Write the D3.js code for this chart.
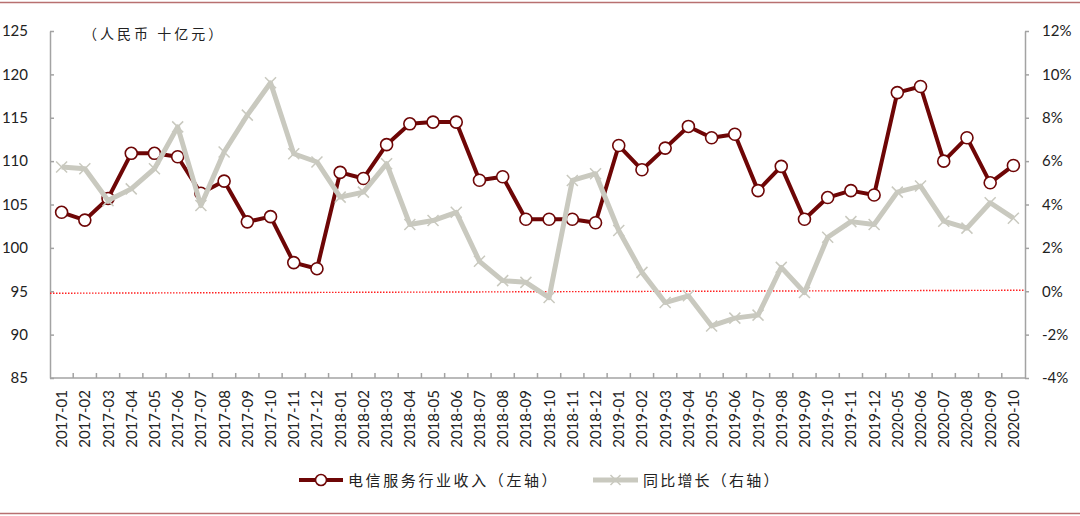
<!DOCTYPE html>
<html>
<head>
<meta charset="utf-8">
<script src="https://cdn.jsdelivr.net/npm/d3@7"></script>
<style>
  body { margin: 0; background: #fff; }
  svg { display: block; }
</style>
</head>
<body>
<div id="chart"></div>
<script>
// months on the x axis (2020-01..04 are absent in the source)
var months = [
    "2017-01", "2017-02", "2017-03", "2017-04", "2017-05", "2017-06",
    "2017-07", "2017-08", "2017-09", "2017-10", "2017-11", "2017-12",
    "2018-01", "2018-02", "2018-03", "2018-04", "2018-05", "2018-06",
    "2018-07", "2018-08", "2018-09", "2018-10", "2018-11", "2018-12",
    "2019-01", "2019-02", "2019-03", "2019-04", "2019-05", "2019-06",
    "2019-07", "2019-08", "2019-09", "2019-10", "2019-11", "2019-12",
    "2020-05", "2020-06", "2020-07", "2020-08", "2020-09", "2020-10"
];

// 电信服务行业收入, 十亿元 (left axis)
var revenue = [
    104.1, 103.2, 105.7, 110.9, 110.9, 110.5,
    106.3, 107.7, 103.0, 103.6, 98.3, 97.6,
    108.7, 108.0, 111.9, 114.3, 114.5, 114.5,
    107.8, 108.2, 103.3, 103.3, 103.3, 102.9,
    111.8, 109.0, 111.5, 114.0, 112.7, 113.1,
    106.6, 109.4, 103.3, 105.8, 106.6, 106.1,
    117.9, 118.6, 110.0, 112.7, 107.5, 109.5
];

// 同比增长, % (right axis)
var growth = [
    5.73, 5.65, 4.18, 4.72, 5.65, 7.58,
    3.95, 6.42, 8.12, 9.61, 6.34, 5.96,
    4.34, 4.57, 5.88, 3.08, 3.26, 3.64,
    1.38, 0.49, 0.41, -0.29, 5.11, 5.42,
    2.80, 0.87, -0.52, -0.21, -1.60, -1.24,
    -1.10, 1.10, -0.06, 2.49, 3.21, 3.08,
    4.57, 4.85, 3.23, 2.91, 4.08, 3.37
];

var leftTicks = [85, 90, 95, 100, 105, 110, 115, 120, 125];
var rightTicks = [-4, -2, 0, 2, 4, 6, 8, 10, 12];

var unitLabel = "（人民币 十亿元）";
var legendNames = ["电信服务行业收入（左轴）", "同比增长（右轴）"];

var W = 1080, H = 516;
var margin = { top: 31, right: 55, bottom: 138, left: 50 };
var plotW = W - margin.left - margin.right,
    plotH = H - margin.top - margin.bottom;

var darkRed = "#6e0606",
    grey = "#c9c9bf",
    axisColor = "#a3a3a3",
    numFont = "Lato, 'Open Sans', sans-serif",
    cjkFont = "'Noto Sans CJK SC', sans-serif";

var svg = d3.select("#chart")
    .append("svg")
    .attr("width", W)
    .attr("height", H);

// frame lines top and bottom
svg.append("line")
    .attr("x1", 0).attr("x2", W).attr("y1", 2.5).attr("y2", 2.5)
    .attr("stroke", "#b87070").attr("stroke-width", 1.5);
svg.append("line")
    .attr("x1", 0).attr("x2", W).attr("y1", 513.5).attr("y2", 513.5)
    .attr("stroke", "#b87070").attr("stroke-width", 1.5);

var g = svg.append("g")
    .attr("transform", "translate(" + margin.left + "," + margin.top + ")");

// scales
const x = d3.scaleBand()
    .domain(months)
    .range([0, plotW])
    .padding(0);

var yL = d3.scaleLinear()
    .domain([85, 125])
    .range([plotH, 0]);

var yR = d3.scaleLinear()
    .domain([-4, 12])
    .range([plotH, 0]);

// left axis
var leftAxis = g.append("g")
    .call(d3.axisLeft(yL).tickValues(leftTicks).tickSize(-4).tickSizeOuter(0).tickPadding(22));
leftAxis.select(".domain").attr("stroke", axisColor).attr("stroke-width", 1.5);
leftAxis.selectAll(".tick line").attr("stroke", axisColor).attr("stroke-width", 1.5);
leftAxis.selectAll("text")
    .attr("font-family", numFont).attr("font-size", 15).attr("fill", "#222");

// right axis
var rightAxis = g.append("g")
    .attr("transform", "translate(" + plotW + ",0)")
    .call(d3.axisRight(yR).tickValues(rightTicks).tickSize(4).tickSizeOuter(0).tickPadding(13)
        .tickFormat(d => d + "%"));
rightAxis.select(".domain").attr("stroke", axisColor).attr("stroke-width", 1.5);
rightAxis.selectAll(".tick line").attr("stroke", axisColor).attr("stroke-width", 1.5);
rightAxis.selectAll("text")
    .attr("font-family", numFont).attr("font-size", 15).attr("fill", "#222");

// bottom axis: line, boundary ticks, rotated labels
var bottom = g.append("g")
    .attr("transform", "translate(0," + plotH + ")");
bottom.append("line")
    .attr("x1", 0).attr("x2", plotW)
    .attr("stroke", axisColor).attr("stroke-width", 1.5);
bottom.selectAll("line.tk")
    .data(months.slice(1))
    .join("line")
    .attr("class", "tk")
    .attr("x1", d => x(d)).attr("x2", d => x(d))
    .attr("y1", 0).attr("y2", -5)
    .attr("stroke", axisColor).attr("stroke-width", 1.5);
bottom.selectAll("text")
    .data(months)
    .join("text")
    .attr("transform", d => "translate(" + (x(d) + x.bandwidth() / 2 + 5.5) + ",12) rotate(-90)")
    .attr("text-anchor", "end")
    .attr("font-family", numFont)
    .attr("font-size", 15)
    .attr("fill", "#222")
    .text(d => d);

// zero line of the growth axis
g.append("line")
    .attr("x1", 0).attr("x2", plotW)
    .attr("y1", yR(0) + 2).attr("y2", yR(0) - 1)
    .attr("stroke", "#ff2020")
    .attr("stroke-width", 1.4)
    .attr("stroke-dasharray", "1.5,1.5");

// unit label
g.append("text")
    .attr("x", 33).attr("y", 8)
    .attr("font-family", cjkFont)
    .attr("font-size", 14)
    .attr("letter-spacing", 3)
    .attr("fill", "#222")
    .text(unitLabel);

var cx = (d, i) => x(months[i]) + x.bandwidth() / 2;

// revenue line
g.append("path")
    .datum(revenue)
    .attr("fill", "none")
    .attr("stroke", darkRed)
    .attr("stroke-width", 4)
    .attr("stroke-linejoin", "round")
    .attr("d", d3.line().x(cx).y(d => yL(d)));

g.append("g")
    .selectAll("circle")
    .data(revenue)
    .join("circle")
    .attr("cx", cx)
    .attr("cy", d => yL(d))
    .attr("r", 6)
    .attr("fill", "#fff")
    .attr("stroke", darkRed)
    .attr("stroke-width", 1.6);

// growth line
g.append("path")
    .datum(growth)
    .attr("fill", "none")
    .attr("stroke", grey)
    .attr("stroke-width", 5)
    .attr("stroke-linejoin", "round")
    .attr("d", d3.line().x(cx).y(d => yR(d)));

var cross = s => "M" + (-s) + "," + (-s) + "L" + s + "," + s + "M" + (-s) + "," + s + "L" + s + "," + (-s);

g.append("g")
    .selectAll("path")
    .data(growth)
    .join("path")
    .attr("transform", (d, i) => "translate(" + cx(d, i) + "," + yR(d) + ")")
    .attr("d", cross(5.5))
    .attr("stroke", grey)
    .attr("stroke-width", 1.5)
    .attr("fill", "none");

// legend
var legend = svg.append("g").attr("transform", "translate(0,480)");
legend.append("line")
    .attr("x1", 299).attr("x2", 343)
    .attr("stroke", darkRed).attr("stroke-width", 4);
legend.append("circle")
    .attr("cx", 321).attr("cy", 0).attr("r", 5.5)
    .attr("fill", "#fff").attr("stroke", darkRed).attr("stroke-width", 1.6);
legend.append("text")
    .attr("x", 348).attr("y", 5.5)
    .attr("font-family", cjkFont).attr("font-size", 15)
    .attr("letter-spacing", 2.6).attr("fill", "#222")
    .text(legendNames[0]);

legend.append("line")
    .attr("x1", 593).attr("x2", 638)
    .attr("stroke", grey).attr("stroke-width", 5);
legend.append("path")
    .attr("transform", "translate(615.5,0)")
    .attr("d", cross(5))
    .attr("stroke", grey).attr("stroke-width", 1.5);
legend.append("text")
    .attr("x", 643).attr("y", 5.5)
    .attr("font-family", cjkFont).attr("font-size", 15)
    .attr("letter-spacing", 2.2).attr("fill", "#222")
    .text(legendNames[1]);
</script>
</body>
</html>
